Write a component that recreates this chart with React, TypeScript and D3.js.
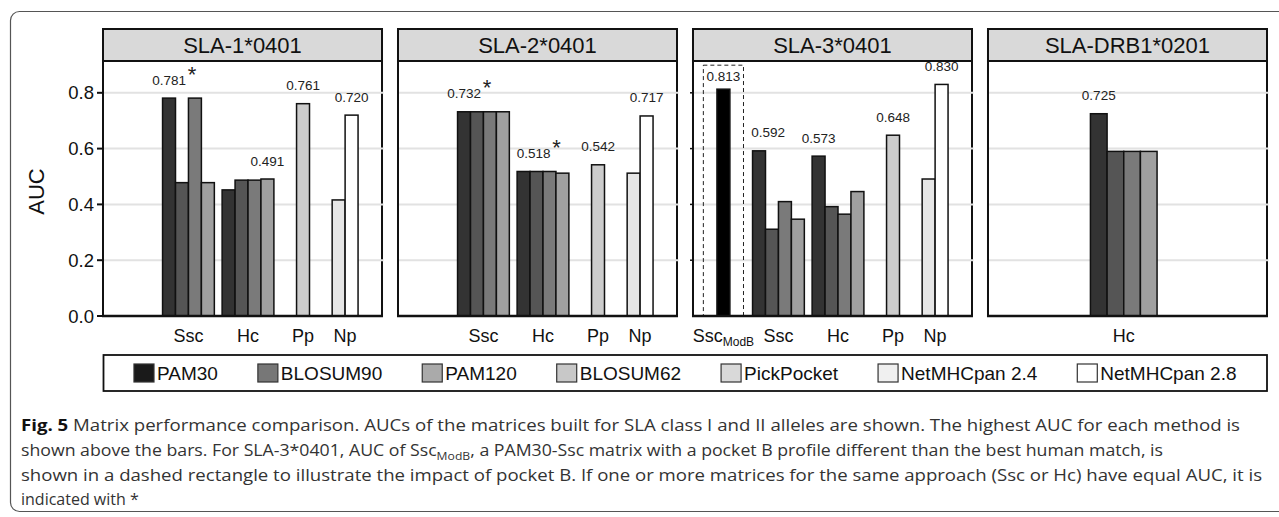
import React from "react";
import * as d3 from "d3";

const alleles = ["SLA-1*0401", "SLA-2*0401", "SLA-3*0401", "SLA-DRB1*0201"];
const methods = ["PAM30", "BLOSUM90", "PAM120", "BLOSUM62", "PickPocket", "NetMHCpan 2.4", "NetMHCpan 2.8"];
const approaches = ["SscModB", "Ssc", "Hc", "Pp", "Np"];
const approachMethods: Record<string, string[]> = {
  SscModB: ["PAM30"],
  Ssc: methods.slice(0, 4),
  Hc: methods.slice(0, 4),
  Pp: ["PickPocket"],
  Np: ["NetMHCpan 2.4", "NetMHCpan 2.8"],
};

// AUC values, one array per allele / approach (method order as in approachMethods)
const sla1Ssc = [0.781, 0.478, 0.781, 0.478];
const sla1Hc = [0.452, 0.487, 0.487, 0.491];
const sla1Pp = [0.761];
const sla1Np = [0.416, 0.72];
const sla2Ssc = [0.732, 0.732, 0.732, 0.732];
const sla2Hc = [0.518, 0.518, 0.518, 0.512];
const sla2Pp = [0.542];
const sla2Np = [0.512, 0.717];
const sla3ModB = [0.813];
const sla3Ssc = [0.592, 0.311, 0.41, 0.347];
const sla3Hc = [0.573, 0.392, 0.365, 0.446];
const sla3Pp = [0.648];
const sla3Np = [0.491, 0.83];
const drb1Hc = [0.725, 0.59, 0.59, 0.59];

// approaches where several matrices share the best AUC
const starred = ["SLA-1*0401|Ssc", "SLA-2*0401|Ssc", "SLA-2*0401|Hc"];

const barColors = ["#333333", "#555555", "#7a7a7a", "#a0a0a0", "#cccccc", "#e6e6e6", "#ffffff"];
const legendColors = ["#1a1a1a", "#777777", "#aaaaaa", "#c8c8c8", "#d9d9d9", "#f0f0f0", "#ffffff"];

const values: Record<string, Record<string, number[]>> = {
  "SLA-1*0401": { Ssc: sla1Ssc, Hc: sla1Hc, Pp: sla1Pp, Np: sla1Np },
  "SLA-2*0401": { Ssc: sla2Ssc, Hc: sla2Hc, Pp: sla2Pp, Np: sla2Np },
  "SLA-3*0401": { SscModB: sla3ModB, Ssc: sla3Ssc, Hc: sla3Hc, Pp: sla3Pp, Np: sla3Np },
  "SLA-DRB1*0201": { Hc: drb1Hc },
};

// slot layout per panel: space (in bar widths) before each group, last entry is trailing space
const sharedGaps = [1.85, 1.75, 0.6, 1.75, 1.75, 1.85];
const panelSlots: Record<string, string[]> = {
  "SLA-1*0401": approaches,
  "SLA-2*0401": approaches,
  "SLA-3*0401": approaches,
  "SLA-DRB1*0201": ["Hc"],
};
const panelGaps: Record<string, number[]> = {
  "SLA-1*0401": sharedGaps,
  "SLA-2*0401": sharedGaps,
  "SLA-3*0401": sharedGaps,
  "SLA-DRB1*0201": [6.15, 6.6],
};
// a couple of value labels were shifted right in the original (px)
const labelNudge: Record<string, number> = { "SLA-2*0401|Hc": 10, "SLA-3*0401|Ssc": 9 };

const captionLines = [
  "Matrix performance comparison. AUCs of the matrices built for SLA class I and II alleles are shown. The highest AUC for each method is",
  "shown above the bars. For SLA-3*0401, AUC of Ssc",
  ", a PAM30-Ssc matrix with a pocket B profile different than the best human match, is",
  "shown in a dashed rectangle to illustrate the impact of pocket B. If one or more matrices for the same approach (Ssc or Hc) have equal AUC, it is",
  "indicated with *",
];

const FONT = "'Liberation Sans', Arial, Helvetica, sans-serif";

let ctx: CanvasRenderingContext2D | null = null;
const textWidth = (t: string, font: string) => {
  if (!ctx) ctx = document.createElement("canvas").getContext("2d");
  ctx!.font = font;
  return ctx!.measureText(t).width;
};

function layout(slots: string[], gaps: number[]) {
  const start: Record<string, number> = {};
  let u = 0;
  slots.forEach((s, i) => {
    u += gaps[i];
    start[s] = u;
    u += approachMethods[s].length;
  });
  u += gaps[slots.length];
  return { start, total: u };
}

export default function App() {
  const W = 1279,
    H = 517;
  const top = 61,
    bottom = 316;
  const panelX = d3.scaleBand<string>().domain(alleles).range([103, 1267]).paddingInner(0.0542);
  const y = d3.scaleLinear().domain([0, 0.914]).range([bottom, top]);
  const yTicks = [0, 0.2, 0.4, 0.6, 0.8];
  const grid = yTicks.filter((d) => d > 0);
  const fmt = d3.format(".1f");
  const fmt3 = d3.format(".3f");

  // legend positions
  const legendFont = `19px ${FONT}`;
  const sw = 20,
    gapText = 3,
    gapItem = 40;
  const itemW = methods.map((m) => sw + gapText + textWidth(m, legendFont));
  const legendTotal = d3.sum(itemW) + gapItem * (methods.length - 1);
  const legL = 103.5,
    legR = 1267;
  let lx = (legL + legR) / 2 - legendTotal / 2;
  const legendX = itemW.map((w) => {
    const v = lx;
    lx += w + gapItem;
    return v;
  });

  return (
    <svg width={W} height={H} style={{ position: "absolute", left: 0, top: 0, background: "#fff" }} fontFamily={FONT}>
      <rect x={10.5} y={11.5} width={1290} height={500} rx={9} fill="none" stroke="#555" strokeWidth={1.2} />

      {alleles.map((a, pi) => {
        const x0 = panelX(a)!;
        const bw = panelX.bandwidth();
        const { start, total } = layout(panelSlots[a], panelGaps[a]);
        const x = d3.scaleLinear().domain([0, total]).range([x0, x0 + bw]);
        const unit = x(1) - x(0);
        const groups = panelSlots[a].filter((s) => values[a][s]);
        return (
          <g key={a}>
            <rect x={x0} y={top} width={bw} height={bottom - top} fill="#fff" stroke="#111" strokeWidth={2} />
            {grid.map((t) => (
              <line key={t} x1={x0 + 1} x2={x0 + bw + 1.5} y1={y(t)} y2={y(t)} stroke="#e2e2e2" strokeWidth={2} />
            ))}
            {pi === 2 &&
              grid.map((t) => <line key={"t" + t} x1={x0 - 3} x2={x0} y1={y(t)} y2={y(t)} stroke="#111" strokeWidth={1.5} />)}
            {groups.map((s) => {
              const vals = values[a][s];
              const ms = approachMethods[s];
              const best = d3.maxIndex(vals);
              const key = a + "|" + s;
              const bx = x(start[s] + best) + unit / 2 + (labelNudge[key] || 0);
              const isModB = s === "SscModB";
              const ly = y(vals[best]) - (isModB ? 8.5 : 13.5);
              return (
                <g key={s}>
                  {isModB && (
                    <rect
                      x={x(start[s] - 1.05)}
                      y={y(vals[0]) - 24}
                      width={x(3.1) - x(0)}
                      height={bottom - y(vals[0]) + 24}
                      fill="none"
                      stroke="#222"
                      strokeWidth={1}
                      strokeDasharray="4,3"
                    />
                  )}
                  {vals.map((v, i) => (
                    <rect
                      key={i}
                      x={x(start[s] + i)}
                      y={y(v)}
                      width={unit}
                      height={bottom - y(v)}
                      fill={isModB ? "#000" : barColors[methods.indexOf(ms[i])]}
                      stroke="#111"
                      strokeWidth={1.5}
                    />
                  ))}
                  <text x={bx} y={ly} textAnchor="middle" fontSize={13.5} fill="#222">
                    {fmt3(vals[best])}
                  </text>
                  {starred.includes(key) && (
                    <text x={bx + 23} y={ly - 3} textAnchor="middle" fontSize={22} fill="#222">
                      *
                    </text>
                  )}
                  <text x={x(start[s] + vals.length / 2)} y={342} textAnchor="middle" fontSize={18} fill="#111">
                    {isModB ? (
                      <>
                        <tspan>Ssc</tspan>
                        <tspan fontSize={12} dy={4}>
                          ModB
                        </tspan>
                      </>
                    ) : (
                      s
                    )}
                  </text>
                </g>
              );
            })}
            <line x1={x0} x2={x0} y1={top} y2={bottom} stroke="#111" strokeWidth={2} />
            <line x1={x0 - 1} x2={x0 + bw + 1} y1={bottom} y2={bottom} stroke="#111" strokeWidth={2.5} />
            <rect x={x0} y={29} width={bw} height={top - 29} fill="#d9d9d9" stroke="#111" strokeWidth={2} />
            <text x={x0 + bw / 2} y={53} textAnchor="middle" fontSize={22} fill="#111">
              {a}
            </text>
          </g>
        );
      })}

      {/* y axis on first panel */}
      <g>
        {yTicks.map((t) => (
          <g key={t}>
            <line x1={97} x2={103} y1={y(t)} y2={y(t)} stroke="#111" strokeWidth={2} />
            <text x={94} y={y(t) + 6.5} textAnchor="end" fontSize={18.5} fill="#111">
              {fmt(t)}
            </text>
          </g>
        ))}
        <text transform={`translate(44,${(top + bottom) / 2 + 3}) rotate(-90)`} textAnchor="middle" fontSize={22} fill="#111">
          AUC
        </text>
      </g>

      {/* legend */}
      <rect x={legL} y={355} width={legR - legL} height={36} fill="#fff" stroke="#111" strokeWidth={1.8} />
      {methods.map((m, i) => (
        <g key={m}>
          <rect x={legendX[i]} y={364} width={sw} height={18} fill={legendColors[i]} stroke="#333" strokeWidth={1.2} />
          <text x={legendX[i] + sw + gapText} y={380} fontSize={19} fill="#111">
            {m}
          </text>
        </g>
      ))}

      {/* caption */}
      <g fontFamily="'Open Sans', 'Noto Sans', sans-serif" fontSize={16} fill="#333">
        <text x={21} y={431} textLength={1219} lengthAdjust="spacingAndGlyphs">
          <tspan fontWeight="bold" fill="#111">
            Fig. 5
          </tspan>
          <tspan> {captionLines[0]}</tspan>
        </text>
        <text x={21} y={456} textLength={1142} lengthAdjust="spacingAndGlyphs">
          <tspan>{captionLines[1]}</tspan>
          <tspan fontSize={11} dy={4}>
            ModB
          </tspan>
          <tspan dy={-4}>{captionLines[2]}</tspan>
        </text>
        <text x={21} y={481} textLength={1241} lengthAdjust="spacingAndGlyphs">
          {captionLines[3]}
        </text>
        <text x={21} y={505}>
          {captionLines[4]}
        </text>
      </g>
    </svg>
  );
}
